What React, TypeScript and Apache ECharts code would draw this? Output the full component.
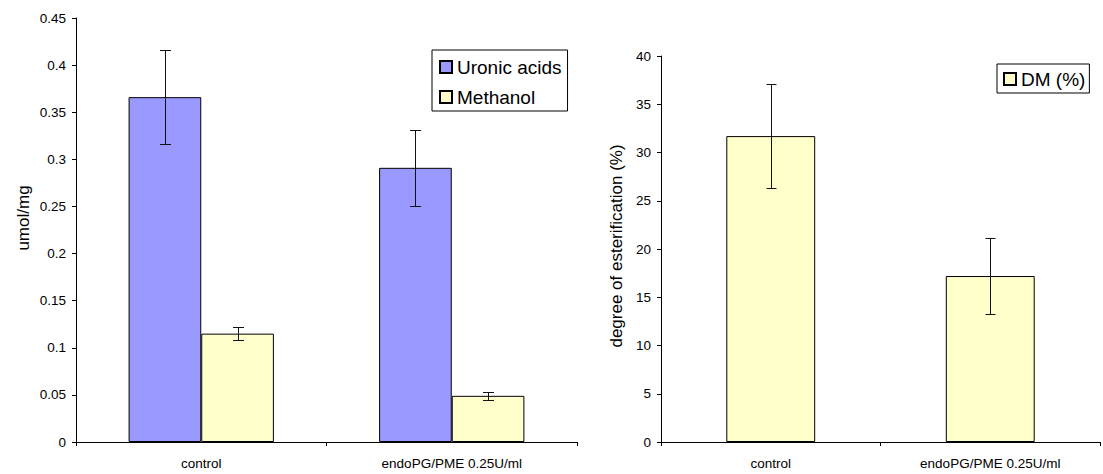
import React, { useEffect, useRef } from "react";
import * as echarts from "echarts";

const categories = ["control", "endoPG/PME 0.25U/ml"];
const uronicAcids = [0.366, 0.291];
const uronicErr = [0.05, 0.04];
const methanol = [0.115, 0.049];
const methanolErr = [0.007, 0.004];
const dm = [31.7, 17.2];
const dmErr = [5.4, 3.9];

const leftTicks = { min: 0, max: 0.45, interval: 0.05 };
const rightTicks = { min: 0, max: 40, interval: 5 };

const FONT = "'Liberation Sans', Arial, sans-serif";
const BLUE = "#9999FF";
const YELLOW = "#FFFFCC";

function errorSeries(name: string, values: number[], errs: number[], gridIdx: number, gap: number, side: number, nPerCat: number, cap: number) {
  return {
    type: "custom",
    name,
    xAxisIndex: gridIdx,
    yAxisIndex: gridIdx,
    z: 10,
    silent: true,
    data: values.map((v, i) => [i, v - errs[i], v + errs[i]]),
    encode: { x: 0, y: [1, 2] },
    renderItem: (params: any, api: any) => {
      const i = api.value(0);
      const lo = api.coord([i, api.value(1)]);
      const hi = api.coord([i, api.value(2)]);
      const band = api.size([1, 0])[0];
      const barW = (band * (1 - gap)) / nPerCat;
      const x = Math.round(lo[0] + side * barW / 2) + 0.5;
      const yl = Math.round(lo[1]) + 0.5;
      const yh = Math.round(hi[1]) + 0.5;
      const st = { stroke: "#111", lineWidth: 1 };
      return {
        type: "group",
        children: [
          { type: "line", shape: { x1: x, y1: yh, x2: x, y2: yl }, style: st },
          { type: "line", shape: { x1: x - cap / 2, y1: yh, x2: x + cap / 2, y2: yh }, style: st },
          { type: "line", shape: { x1: x - cap / 2, y1: yl, x2: x + cap / 2, y2: yl }, style: st },
        ],
      };
    },
  };
}

export default function App() {
  const ref = useRef<HTMLDivElement>(null);
  useEffect(() => {
    if (!ref.current) return;
    const chart = echarts.init(ref.current, undefined, { renderer: "svg" });
    const axisLine = { lineStyle: { color: "#000", width: 1 } };
    const xAxisBase = {
      type: "category",
      data: categories,
      axisLine,
      axisTick: { show: true, length: 4, alignWithLabel: false, lineStyle: { color: "#000" } },
      axisLabel: { color: "#000", fontFamily: FONT, fontSize: 13.5, margin: 14 },
      splitLine: { show: false },
    };
    const yAxisBase = {
      type: "value",
      axisLine: { show: true, ...axisLine },
      axisTick: { show: true, length: 4, lineStyle: { color: "#000" } },
      axisLabel: { color: "#000", fontFamily: FONT, fontSize: 13.5, margin: 10 },
      splitLine: { show: false },
    };
    const border = { borderColor: "#000", borderWidth: 1 };
    chart.setOption({
      animation: false,
      textStyle: { fontFamily: FONT },
      grid: [
        { left: 76, top: 18, width: 501, height: 424 },
        { left: 661, top: 56, width: 439, height: 386 },
      ],
      xAxis: [
        { ...xAxisBase, gridIndex: 0 },
        { ...xAxisBase, gridIndex: 1 },
      ],
      yAxis: [
        { ...yAxisBase, gridIndex: 0, ...leftTicks },
        { ...yAxisBase, gridIndex: 1, ...rightTicks },
      ],
      legend: [
        {
          data: ["Uronic acids", "Methanol"],
          orient: "vertical",
          left: 432,
          top: 50,
          padding: [7, 6, 4, 7],
          itemGap: 10,
          itemWidth: 12,
          itemHeight: 12,
          icon: "rect",
          borderColor: "#000",
          borderWidth: 1,
          textStyle: { fontSize: 19, fontFamily: FONT, color: "#000", lineHeight: 20 },
        },
        {
          data: ["DM (%)"],
          orient: "vertical",
          left: 997,
          top: 64,
          padding: [5, 4, 4, 6],
          itemWidth: 12,
          itemHeight: 12,
          icon: "rect",
          borderColor: "#000",
          borderWidth: 1,
          textStyle: { fontSize: 19, fontFamily: FONT, color: "#000", lineHeight: 20 },
        },
      ],
      graphic: [
        {
          type: "text",
          x: 23,
          y: 218,
          rotation: Math.PI / 2,
          style: { text: "umol/mg", fontSize: 17, fontFamily: FONT, fill: "#000", align: "center", verticalAlign: "middle" },
        },
        {
          type: "text",
          x: 616,
          y: 246,
          rotation: Math.PI / 2,
          style: { text: "degree of esterification (%)", fontSize: 17, fontFamily: FONT, fill: "#000", align: "center", verticalAlign: "middle" },
        },
      ],
      series: [
        {
          type: "bar",
          name: "Uronic acids",
          xAxisIndex: 0,
          yAxisIndex: 0,
          data: uronicAcids,
          barGap: "0%",
          barCategoryGap: "42%",
          itemStyle: { color: BLUE, ...border },
        },
        {
          type: "bar",
          name: "Methanol",
          xAxisIndex: 0,
          yAxisIndex: 0,
          data: methanol,
          barGap: "0%",
          barCategoryGap: "42%",
          itemStyle: { color: YELLOW, ...border },
        },
        {
          type: "bar",
          name: "DM (%)",
          xAxisIndex: 1,
          yAxisIndex: 1,
          data: dm,
          barCategoryGap: "59.5%",
          itemStyle: { color: YELLOW, ...border },
        },
        errorSeries("err-uronic", uronicAcids, uronicErr, 0, 0.42, -1, 2, 11),
        errorSeries("err-methanol", methanol, methanolErr, 0, 0.42, 1, 2, 11),
        errorSeries("err-dm", dm, dmErr, 1, 0.595, 0, 1, 10),
      ],
    });
    return () => chart.dispose();
  }, []);
  return (
    <div
      ref={ref}
      style={{ position: "absolute", left: 0, top: 0, width: 1103, height: 474, background: "#fff" }}
    />
  );
}
